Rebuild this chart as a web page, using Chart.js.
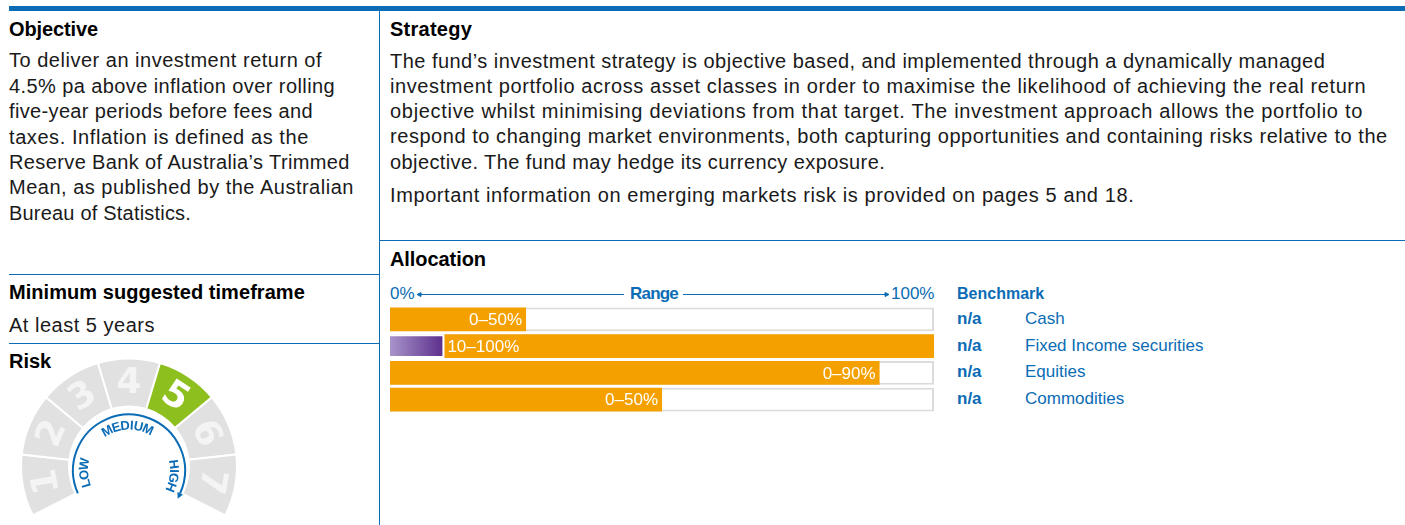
<!DOCTYPE html>
<html>
<head>
<meta charset="utf-8">
<script src="https://cdn.jsdelivr.net/npm/chart.js@4.4.1/dist/chart.umd.min.js"></script>
<style>
  body { margin: 0; width: 1405px; height: 525px; background: #fff; position: relative; overflow: hidden;
         font-family: "Liberation Sans", Arial, sans-serif; color: #1a1a1a; }
  .abs { position: absolute; white-space: nowrap; }
  .t { font-size: 20px; line-height: 25px; height: 25px; }
  .h { font-weight: bold; color: #000; }
  .s { font-size: 17px; line-height: 22px; height: 22px; }
  .blue { color: #0b6cb5; }
  .rule { position: absolute; background: #0b6cb5; }
</style>
</head>
<body>

<div class="rule" style="left:9px;top:6px;width:1396px;height:5px"></div>
<div class="rule" style="left:379px;top:11px;width:1px;height:514px"></div>
<div class="rule" style="left:9px;top:274px;width:370px;height:1px"></div>
<div class="rule" style="left:9px;top:343px;width:370px;height:1px"></div>
<div class="rule" style="left:379px;top:240px;width:1026px;height:1px"></div>

<div class="abs t h" style="left:9px;top:17px" data-w="89">Objective</div>
<div class="abs t" style="left:9px;top:48px" data-w="313">To deliver an investment return of</div>
<div class="abs t" style="left:9px;top:74px" data-w="326">4.5% pa above inflation over rolling</div>
<div class="abs t" style="left:9px;top:99px" data-w="304">five-year periods before fees and</div>
<div class="abs t" style="left:9px;top:125px" data-w="300">taxes. Inflation is defined as the</div>
<div class="abs t" style="left:9px;top:150px" data-w="341">Reserve Bank of Australia’s Trimmed</div>
<div class="abs t" style="left:9px;top:175px" data-w="345">Mean, as published by the Australian</div>
<div class="abs t" style="left:9px;top:201px" data-w="182">Bureau of Statistics.</div>

<div class="abs t h" style="left:9px;top:280px" data-w="296">Minimum suggested timeframe</div>
<div class="abs t" style="left:9px;top:313px" data-w="146">At least 5 years</div>
<div class="abs t h" style="left:9px;top:349px" data-w="42">Risk</div>

<div class="abs t h" style="left:390px;top:17px" data-w="82">Strategy</div>
<div class="abs t" style="left:390px;top:49px" data-w="935">The fund’s investment strategy is objective based, and implemented through a dynamically managed</div>
<div class="abs t" style="left:390px;top:74px" data-w="976">investment portfolio across asset classes in order to maximise the likelihood of achieving the real return</div>
<div class="abs t" style="left:390px;top:99px" data-w="973">objective whilst minimising deviations from that target. The investment approach allows the portfolio to</div>
<div class="abs t" style="left:390px;top:124px" data-w="998">respond to changing market environments, both capturing opportunities and containing risks relative to the</div>
<div class="abs t" style="left:390px;top:150px" data-w="495">objective. The fund may hedge its currency exposure.</div>
<div class="abs t" style="left:390px;top:183px" data-w="744">Important information on emerging markets risk is provided on pages 5 and 18.</div>

<div class="abs t h" style="left:390px;top:247px" data-w="96">Allocation</div>

<div class="abs s blue" style="left:390px;top:283px">0%</div>
<div class="abs s blue" style="left:630px;top:283px;font-weight:bold" data-w="48">Range</div>
<div class="abs s blue" style="left:891px;top:283px">100%</div>
<svg class="abs" style="left:0;top:0" width="1405" height="525">
  <g stroke="#0b6cb5" stroke-width="1" fill="#0b6cb5">
    <line x1="419" y1="294.5" x2="624" y2="294.5"/>
    <path d="M417 294.5 l4 -2 v4 z"/>
    <line x1="683" y1="294.5" x2="887" y2="294.5"/>
    <path d="M889 294.5 l-4 -2 v4 z"/>
  </g>
</svg>

<canvas id="alloc" class="abs" style="left:390px;top:306px" width="544" height="107"></canvas>
<div id="bench"></div>

<canvas id="gauge" class="abs" style="left:20px;top:357px" width="218" height="160"></canvas>

<script>
// allocation data
var assetClasses = ['Cash', 'Fixed Income securities', 'Equities', 'Commodities'];
var rangeLabels = ['0–50%', '10–100%', '0–90%', '0–50%'];
var minAlloc = [0, 10, 0, 0];
var barEnd = [25, 100, 90, 50];
var benchmark = ['n/a', 'n/a', 'n/a', 'n/a'];
var scaleMax = 100;

// risk gauge data
var riskLevels = ['1', '2', '3', '4', '5', '6', '7'];
var riskSegments = [1, 1, 1, 1, 1, 1, 1];
var riskRating = 5;
var riskBands = ['LOW', 'MEDIUM', 'HIGH'];

var blue = '#0b6cb5';
var orange = '#f4a100';
var FONT = '"Liberation Sans", Arial, sans-serif';

// stretch text lines to the measured widths
document.querySelectorAll('[data-w]').forEach(function (el) {
  var natural = el.getBoundingClientRect().width;
  el.style.letterSpacing = ((+el.dataset.w - natural) / el.textContent.length).toFixed(2) + 'px';
});

// benchmark column
var bench = document.getElementById('bench');
var html = '<div class="abs s blue" style="left:957px;top:283px;font-weight:bold;font-size:16px">Benchmark</div>';
assetClasses.forEach(function (name, i) {
  var top = 308 + i * 26.7;
  html += '<div class="abs s blue" style="left:957px;top:' + top + 'px;font-weight:bold">' + benchmark[i] + '</div>';
  html += '<div class="abs s blue" style="left:1025px;top:' + top + 'px">' + name + '</div>';
});
bench.innerHTML = html;

var barLabels = {
  id: 'barLabels',
  afterDatasetsDraw: function (chart) {
    var ctx = chart.ctx;
    var bars = chart.getDatasetMeta(1).data;
    ctx.save();
    ctx.font = '17px ' + FONT;
    ctx.fillStyle = '#fff';
    ctx.textBaseline = 'middle';
    bars.forEach(function (bar, i) {
      if (minAlloc[i] > 0) {
        ctx.textAlign = 'left';
        ctx.fillText(rangeLabels[i], bar.base + 3, bar.y + 1);
      } else {
        ctx.textAlign = 'right';
        ctx.fillText(rangeLabels[i], bar.x - 4, bar.y + 1);
      }
    });
    ctx.restore();
  }
};

new Chart(document.getElementById('alloc'), {
  type: 'bar',
  data: {
    labels: assetClasses,
    datasets: [{
      label: 'Minimum',
      data: minAlloc.map(function (m) { return m > 0 ? [0, m] : null; }),
      backgroundColor: function (c) {
        var area = c.chart.chartArea;
        if (!area || !isFinite(area.left) || area.width <= 0) return '#7a5aa8';
        var x1 = area.left + area.width * (minAlloc[c.dataIndex] || 1) / scaleMax;
        var g = c.chart.ctx.createLinearGradient(area.left, 0, x1, 0);
        g.addColorStop(0, '#a894cb');
        g.addColorStop(1, '#5a2c8a');
        return g;
      },
      borderColor: '#fff',
      borderWidth: 2,
      order: 0
    }, {
      label: 'Range',
      data: minAlloc.map(function (m, i) { return [m, barEnd[i]]; }),
      backgroundColor: orange,
      order: 1
    }, {
      label: 'Track',
      data: assetClasses.map(function () { return [0, scaleMax]; }),
      backgroundColor: '#fff',
      borderColor: '#dcdcdc',
      borderWidth: 2,
      order: 2
    }]
  },
  options: {
    indexAxis: 'y',
    responsive: false,
    animation: false,
    events: [],
    layout: { padding: 0 },
    datasets: { bar: { grouped: false, barPercentage: 0.88, categoryPercentage: 1 } },
    scales: {
      x: { min: 0, max: scaleMax, display: false },
      y: { display: false }
    },
    plugins: { legend: { display: false }, tooltip: { enabled: false } }
  },
  plugins: [barLabels]
});

function rad(d) { return d * Math.PI / 180; }

// text running clockwise round an arc, letter tops facing outward
function arcText(ctx, text, cx, cy, r, centerDeg, spacing) {
  var chars = text.split('');
  var widths = chars.map(function (c) { return ctx.measureText(c).width + spacing; });
  var total = widths.reduce(function (a, b) { return a + b; }, 0) - spacing;
  var a = rad(centerDeg) - total / r / 2;
  chars.forEach(function (c, i) {
    var ca = a + (widths[i] - spacing) / 2 / r;
    ctx.save();
    ctx.translate(cx, cy);
    ctx.rotate(ca);
    ctx.textAlign = 'center';
    ctx.textBaseline = 'top';
    ctx.fillText(c, 0, -r);
    ctx.restore();
    a += widths[i] / r;
  });
}

var gaugeText = {
  id: 'gaugeText',
  afterDatasetsDraw: function (chart) {
    var ctx = chart.ctx;
    var arcs = chart.getDatasetMeta(0).data;
    var cx = arcs[0].x, cy = arcs[0].y;
    ctx.save();
    ctx.font = 'bold 36px "DejaVu Sans", sans-serif';
    ctx.textAlign = 'center';
    ctx.textBaseline = 'middle';
    arcs.forEach(function (arc, i) {
      var p = arc.getProps(['startAngle', 'endAngle', 'innerRadius', 'outerRadius']);
      var mid = (p.startAngle + p.endAngle) / 2;
      var r = (p.innerRadius + p.outerRadius) / 2;
      ctx.save();
      ctx.translate(cx + r * Math.cos(mid), cy + r * Math.sin(mid));
      ctx.rotate(mid + Math.PI / 2);
      ctx.fillStyle = i === riskRating - 1 ? '#fff' : '#f4f4f4';
      ctx.fillText(riskLevels[i], 0, 1);
      ctx.restore();
    });

    // blue LOW-MEDIUM-HIGH arc
    var by = cy + 4, br = 56, end = 114;
    ctx.strokeStyle = blue;
    ctx.fillStyle = blue;
    ctx.lineWidth = 2;
    ctx.beginPath();
    ctx.arc(cx, by, br, rad(-end - 90), rad(end - 90));
    ctx.stroke();
    var t = rad(end);
    var ex = cx + br * Math.sin(t), ey = by - br * Math.cos(t);
    var dx = Math.cos(t), dy = Math.sin(t), nx = Math.sin(t), ny = -Math.cos(t);
    ctx.beginPath();
    ctx.moveTo(ex + dx * 6, ey + dy * 6);
    ctx.lineTo(ex + nx * 3, ey + ny * 3);
    ctx.lineTo(ex - nx * 3, ey - ny * 3);
    ctx.closePath();
    ctx.fill();

    ctx.font = 'bold 13px ' + FONT;
    arcText(ctx, riskBands[0], cx, by, 51, -93, 1);
    arcText(ctx, riskBands[1], cx, by, 51, -2, 1.2);
    arcText(ctx, riskBands[2], cx, by, 51, 97, 1);
    ctx.restore();
  }
};

new Chart(document.getElementById('gauge'), {
  type: 'doughnut',
  data: {
    labels: riskLevels,
    datasets: [{
      data: riskSegments,
      backgroundColor: riskLevels.map(function (l, i) { return i === riskRating - 1 ? '#8dbf1f' : '#e1e1e1'; }),
      borderColor: '#fff',
      borderWidth: 2
    }]
  },
  options: {
    responsive: false,
    animation: false,
    events: [],
    rotation: -117,
    circumference: 234,
    cutout: '55.5%',
    layout: { padding: 0 },
    plugins: { legend: { display: false }, tooltip: { enabled: false } }
  },
  plugins: [gaugeText]
});
</script>
</body>
</html>
